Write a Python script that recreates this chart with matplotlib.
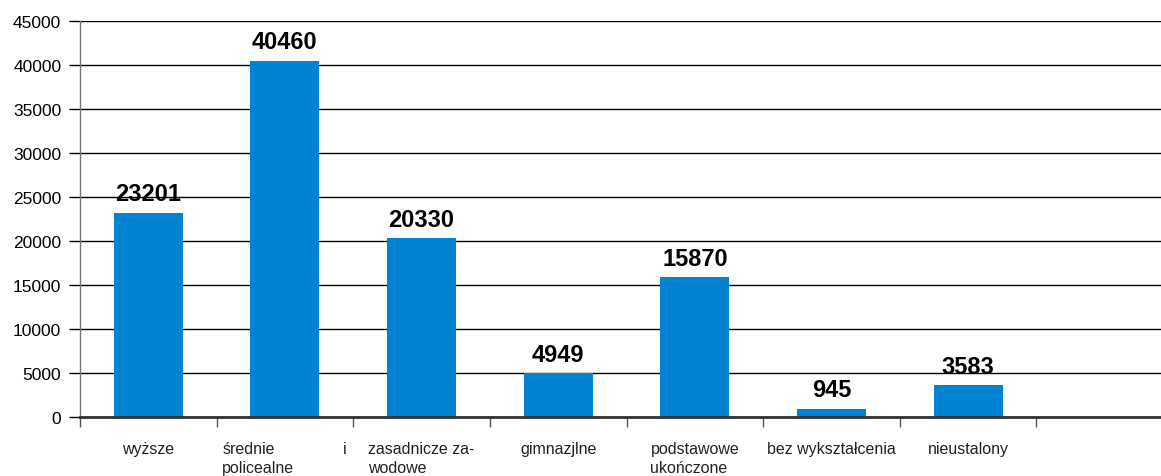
import numpy as np
import matplotlib

matplotlib.use("Agg")
import matplotlib.pyplot as plt
from matplotlib.transforms import blended_transform_factory

CATEGORIES = [
    "wyższe",
    "średnie\npolicealne",
    "zasadnicze za-\nwodowe",
    "gimnazjlne",
    "podstawowe\nukończone",
    "bez wykształcenia",
    "nieustalony",
]
VALUES = [23201, 40460, 20330, 4949, 15870, 945, 3583]
N_SLOTS = 8  # last slot stays empty
Y_TICKS = list(range(0, 45001, 5000))

BAR_COLOR = "#0084d1"
NARROW = ["Liberation Sans Narrow", "Liberation Sans", "DejaVu Sans"]
REGULAR = ["Liberation Sans", "DejaVu Sans"]

W, H = 1161, 477
fig = plt.figure(figsize=(W / 100, H / 100), dpi=100)
# right edge runs past the figure so the empty last slot is clipped like the original
ax = fig.add_axes([80 / W, 59 / H, (1173 - 80) / W, (418 - 22) / H])

x = np.arange(len(VALUES))
ax.bar(x, VALUES, width=0.505, color=BAR_COLOR, zorder=3)

ax.set_xlim(-0.5, N_SLOTS - 0.5)
ax.set_ylim(0, 45000)
ax.set_yticks(Y_TICKS)
ax.set_yticklabels([str(v) for v in Y_TICKS], family=REGULAR, fontsize=12.5)
ax.grid(axis="y", color="black", linewidth=1.0, zorder=0)
ax.tick_params(axis="y", length=8, width=1, color="black", pad=5.5)

ax.set_xticks(np.arange(N_SLOTS + 1) - 0.5)
ax.set_xticklabels([])
ax.tick_params(axis="x", length=7.2, width=1, color="#555555")

for side in ("top", "right"):
    ax.spines[side].set_visible(False)
ax.spines["left"].set_color("#777777")
ax.spines["left"].set_linewidth(1)
ax.spines["bottom"].set_color("#333333")
ax.spines["bottom"].set_linewidth(2)
ax.spines["bottom"].set_zorder(4)

trans = blended_transform_factory(ax.transData, fig.transFigure)
label_y = (H - 442) / H
for i, lab in enumerate(CATEGORIES):
    if i == 1:
        # this label is spread (justified) across its whole slot
        ax.text(i - 0.46, label_y, lab, transform=trans, ha="left", va="top",
                multialignment="left", family=NARROW, fontsize=11.5,
                color="#222222", linespacing=1.35, clip_on=False)
        ax.text(i + 0.45, label_y, "i", transform=trans, ha="right", va="top",
                family=NARROW, fontsize=11.5, color="#222222", clip_on=False)
        continue
    ax.text(i, label_y, lab, transform=trans, ha="center", va="top",
            multialignment="left", family=NARROW, fontsize=11.5,
            color="#222222", linespacing=1.35, clip_on=False)

for i, v in enumerate(VALUES):
    ax.annotate(str(v), (i, v), xytext=(0, 9), textcoords="offset points",
                ha="center", va="baseline", family=NARROW, fontsize=17,
                fontweight="bold", color="black", zorder=5)

fig.savefig("out.png", dpi=100)
